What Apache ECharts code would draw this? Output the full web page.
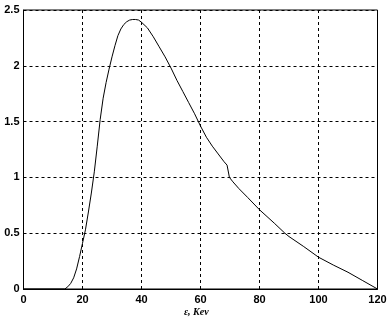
<!DOCTYPE html>
<html>
<head>
<meta charset="utf-8">
<script src="https://cdn.jsdelivr.net/npm/echarts@6/dist/echarts.min.js"></script>
<style>html,body{margin:0;padding:0;background:#fff}#c{width:392px;height:328px}</style>
</head>
<body>
<div id="c"></div>
<script>
var energy = [0, 10, 14, 15, 16, 17, 18, 19, 20, 21, 22, 23, 24, 25, 26, 27, 28, 29, 30, 31, 32, 33, 34, 35, 36, 37, 38, 39, 40, 42, 44, 46, 48, 50, 52, 54, 56, 58, 60, 62, 64, 66, 68, 69, 69.8, 71, 73, 76, 80, 85, 88.6, 90, 95, 100, 105, 110, 115, 120];
var intensity = [0, 0, 0, 0.02, 0.05, 0.1, 0.18, 0.29, 0.41, 0.53, 0.69, 0.86, 1.05, 1.28, 1.52, 1.71, 1.85, 1.97, 2.08, 2.18, 2.27, 2.33, 2.37, 2.395, 2.41, 2.415, 2.415, 2.41, 2.39, 2.34, 2.26, 2.17, 2.08, 1.98, 1.87, 1.77, 1.67, 1.57, 1.46, 1.36, 1.28, 1.21, 1.14, 1.11, 1.0, 0.96, 0.9, 0.82, 0.71, 0.59, 0.5, 0.47, 0.38, 0.285, 0.215, 0.15, 0.075, 0];
var xTicks = [0, 20, 40, 60, 80, 100, 120];
var yTicks = [0, 0.5, 1, 1.5, 2, 2.5];
var xLabel = 'ε, Kev';

var pts = energy.map(function (e, i) { return [e, intensity[i]]; });
var chart = echarts.init(document.getElementById('c'));
var labelFont = { color: '#000', fontFamily: 'Liberation Sans', fontWeight: 900, fontSize: 11 };
chart.setOption({
  animation: false,
  grid: { left: 23.5, right: 14.5, top: 10, bottom: 39, show: true, borderColor: '#000', borderWidth: 1, backgroundColor: 'transparent' },
  xAxis: {
    type: 'value', min: xTicks[0], max: xTicks[xTicks.length - 1], interval: 20,
    axisLine: { lineStyle: { color: '#000', width: 1 } },
    axisTick: { show: false },
    axisLabel: Object.assign({ margin: 5 }, labelFont),
    splitLine: { show: true, lineStyle: { color: '#000', type: [3, 3], width: 1 } }
  },
  yAxis: {
    type: 'value', min: yTicks[0], max: yTicks[yTicks.length - 1], interval: 0.5,
    axisLine: { show: true, lineStyle: { color: '#000', width: 1 } },
    axisTick: { show: false },
    axisLabel: Object.assign({ margin: 4 }, labelFont),
    splitLine: { show: true, lineStyle: { color: '#000', type: [3, 3], width: 1 } }
  },
  graphic: [{
    type: 'text', left: 184, top: 307,
    style: { text: xLabel, fill: '#000', font: 'italic bold 10px "Liberation Serif"' }
  }],
  series: [{
    type: 'line', data: pts, showSymbol: false, smooth: false,
    lineStyle: { color: '#000', width: 1 }
  }]
});
</script>
</body>
</html>
